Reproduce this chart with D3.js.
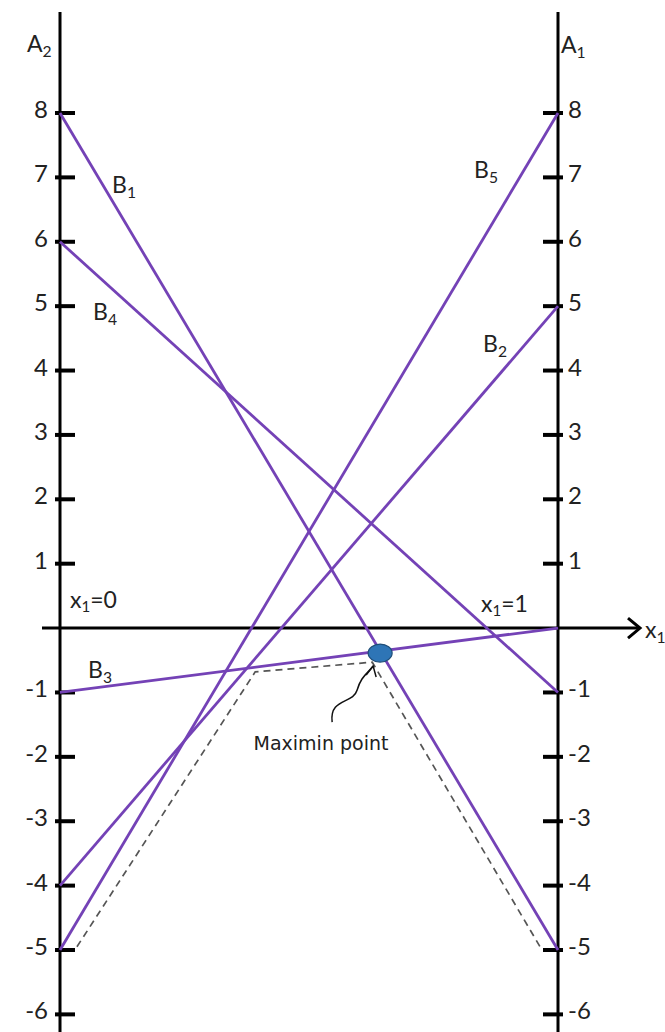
<!DOCTYPE html>
<html>
<head>
<meta charset="utf-8">
<script src="https://cdn.jsdelivr.net/npm/d3@7/dist/d3.min.js"></script>
<style>
  body { margin: 0; background: #fff; }
  svg { display: block; }
  .lbl { font-family: Lato, "Open Sans", sans-serif; fill: #222; }
</style>
</head>
<body>
<div id="chart"></div>
<script>
// payoff of each B strategy at x1 = 0 (axis A2) and x1 = 1 (axis A1)
const lineNames = ['B1', 'B2', 'B3', 'B4', 'B5'];
const valuesAtX0 = [8, -4, -1, 6, -5];
const valuesAtX1 = [-5, 5, 0, -1, 8];
const yTicks = [-6, -5, -4, -3, -2, -1, 1, 2, 3, 4, 5, 6, 7, 8];
// hand drawn dashed lower envelope
const envelopeX = [0.034, 0.392, 0.627, 0.964];
const envelopeY = [-4.95, -0.68, -0.53, -4.95];

const W = 665, H = 1032;
const x = d3.scaleLinear().domain([0, 1]).range([60, 558]);
const y = d3.scaleLinear().domain([-5, 8]).range([950, 113]);
const purple = '#7442b6';

const svg = d3.select('#chart').append('svg')
    .attr('width', W).attr('height', H);

// vertical axes
[0, 1].forEach(v => {
    svg.append('line')
        .attr('x1', x(v)).attr('x2', x(v))
        .attr('y1', 12).attr('y2', H)
        .attr('stroke', '#000').attr('stroke-width', 3);
});

// horizontal axis with arrow
svg.append('line')
    .attr('x1', 42).attr('x2', 640)
    .attr('y1', y(0)).attr('y2', y(0))
    .attr('stroke', '#000').attr('stroke-width', 3);
svg.append('path')
    .attr('d', `M${628},${y(0) - 10} L640,${y(0)} L${628},${y(0) + 10}`)
    .attr('fill', 'none').attr('stroke', '#000').attr('stroke-width', 3);

// tick marks
svg.selectAll('.tickL').data(yTicks).enter().append('line')
    .attr('x1', x(0) - 5).attr('x2', x(0) + 15)
    .attr('y1', d => y(d)).attr('y2', d => y(d))
    .attr('stroke', '#000').attr('stroke-width', 4);
svg.selectAll('.tickR').data(yTicks).enter().append('line')
    .attr('x1', x(1) - 15).attr('x2', x(1) + 5)
    .attr('y1', d => y(d)).attr('y2', d => y(d))
    .attr('stroke', '#000').attr('stroke-width', 4);

// tick labels
svg.selectAll('.tlL').data(yTicks).enter().append('text')
    .attr('class', 'lbl')
    .attr('x', 48).attr('y', d => y(d) + 5)
    .attr('text-anchor', 'end')
    .style('font-size', '24px')
    .text(d => d);
svg.selectAll('.tlR').data(yTicks).enter().append('text')
    .attr('class', 'lbl')
    .attr('x', 568).attr('y', d => y(d) + 5)
    .style('font-size', '24px')
    .text(d => d);

// dashed envelope
const env = envelopeX.map((v, i) => [x(v), y(envelopeY[i])]);
svg.append('path')
    .attr('d', d3.line()(env))
    .attr('fill', 'none')
    .attr('stroke', '#555')
    .attr('stroke-width', 1.7)
    .attr('stroke-dasharray', '7,5');

// strategy lines
svg.selectAll('.bline').data(lineNames).enter().append('line')
    .attr('x1', x(0)).attr('y1', (d, i) => y(valuesAtX0[i]))
    .attr('x2', x(1)).attr('y2', (d, i) => y(valuesAtX1[i]))
    .attr('stroke', purple).attr('stroke-width', 2.8);

// text with subscript
function subText(px, py, main, sub, size) {
    const t = svg.append('text').attr('class', 'lbl')
        .attr('x', px).attr('y', py).style('font-size', size + 'px');
    t.append('tspan').text(main);
    t.append('tspan').attr('dy', size * 0.2).style('font-size', (size * 0.68) + 'px').text(sub);
    return t;
}

subText(27, 52, 'A', '2', 23);
subText(561, 53, 'A', '1', 23);

const bLabelPos = {
    B1: [112, 193], B2: [483, 352], B3: [88, 678], B4: [93, 320], B5: [474, 178]
};
lineNames.forEach(n => subText(bLabelPos[n][0], bLabelPos[n][1], 'B', n.slice(1), 23));

// x1 labels
function xEqText(px, py, val) {
    const t = svg.append('text').attr('class', 'lbl')
        .attr('x', px).attr('y', py).style('font-size', '23px');
    t.append('tspan').text('x');
    t.append('tspan').attr('dy', 4).style('font-size', '15px').text('1');
    t.append('tspan').attr('dy', -4).text('=' + val);
}
xEqText(70, 608, 0);
xEqText(481, 612, 1);
subText(645, y(0) + 10, 'x', '1', 23);

// maximin point = intersection of B1 and B3
const a1 = valuesAtX0[0], b1 = valuesAtX1[0] - valuesAtX0[0];
const a3 = valuesAtX0[2], b3 = valuesAtX1[2] - valuesAtX0[2];
const mx = (a3 - a1) / (b1 - b3);
const my = a1 + b1 * mx;
const cx = x(mx), cy = y(my) + 2;

// curved pointer arrow
const tipX = cx - 7, tipY = cy + 13;
svg.append('path')
    .attr('d', `M${tipX - 41},${tipY + 56} C${tipX - 44},${tipY + 32} ${tipX - 20},${tipY + 38} ${tipX - 16},${tipY + 24} S${tipX - 6},${tipY + 8} ${tipX},${tipY}`)
    .attr('fill', 'none').attr('stroke', '#111').attr('stroke-width', 1.5);
svg.append('path')
    .attr('d', `M${tipX - 7},${tipY + 9} L${tipX},${tipY} L${tipX + 3},${tipY + 11}`)
    .attr('fill', 'none').attr('stroke', '#111').attr('stroke-width', 1.5);

svg.append('ellipse')
    .attr('cx', cx).attr('cy', cy)
    .attr('rx', 12).attr('ry', 9)
    .attr('fill', '#2e75b6').attr('stroke', '#1f4e79').attr('stroke-width', 1.2);

svg.append('text')
    .attr('x', 321).attr('y', 750)
    .attr('text-anchor', 'middle')
    .style('font-family', '"DejaVu Sans", Verdana, sans-serif')
    .style('font-size', '19px')
    .style('fill', '#222')
    .text('Maximin point');
</script>
</body>
</html>
